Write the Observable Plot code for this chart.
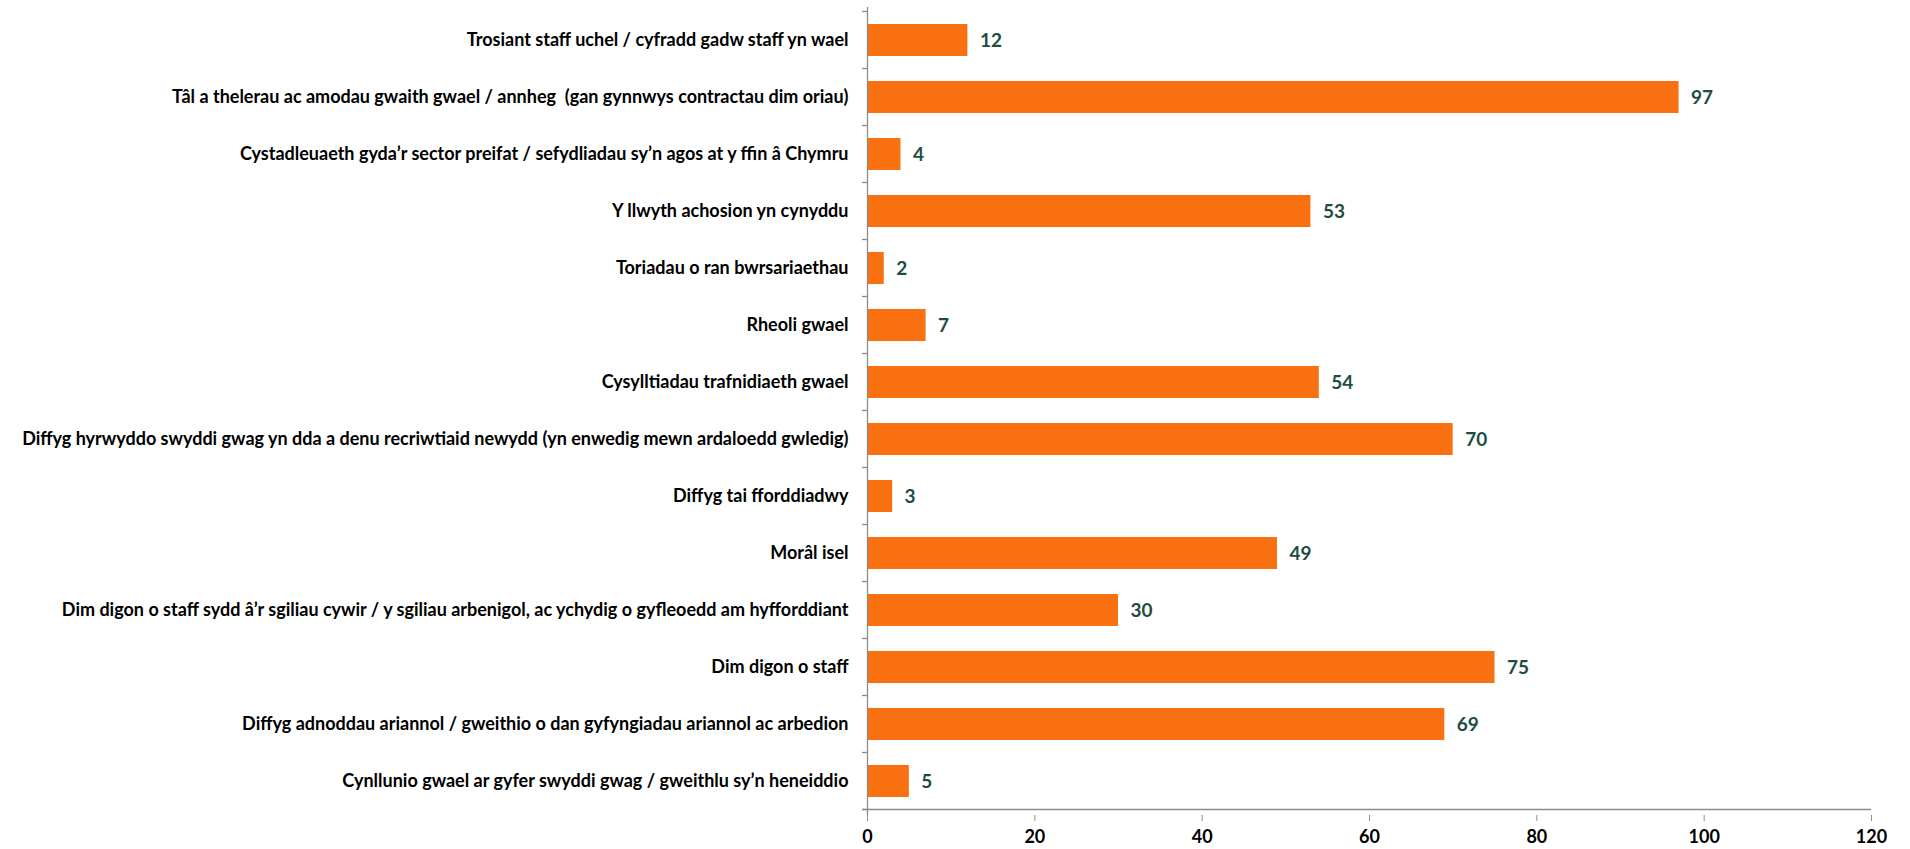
<!DOCTYPE html>
<html>
<head>
<meta charset="utf-8">
<script src="https://cdn.jsdelivr.net/npm/d3@7"></script>
<script src="https://cdn.jsdelivr.net/npm/@observablehq/plot@0.6"></script>
<style>
  html, body { margin: 0; padding: 0; background: #ffffff; }
  #chart svg { display: block; font-family: Lato, "Open Sans", sans-serif; }
</style>
</head>
<body>
<div id="chart"></div>
<script>
const categories = [
  "Trosiant staff uchel / cyfradd gadw staff yn wael",
  "Tâl a thelerau ac amodau gwaith gwael / annheg  (gan gynnwys contractau dim oriau)",
  "Cystadleuaeth gyda’r sector preifat / sefydliadau sy’n agos at y ffin â Chymru",
  "Y llwyth achosion yn cynyddu",
  "Toriadau o ran bwrsariaethau",
  "Rheoli gwael",
  "Cysylltiadau trafnidiaeth gwael",
  "Diffyg hyrwyddo swyddi gwag yn dda a denu recriwtiaid newydd (yn enwedig mewn ardaloedd gwledig)",
  "Diffyg tai fforddiadwy",
  "Morâl isel",
  "Dim digon o staff sydd â’r sgiliau cywir / y sgiliau arbenigol, ac ychydig o gyfleoedd am hyfforddiant",
  "Dim digon o staff",
  "Diffyg adnoddau ariannol / gweithio o dan gyfyngiadau ariannol ac arbedion",
  "Cynllunio gwael ar gyfer swyddi gwag / gweithlu sy’n heneiddio"
];
const values = [12, 97, 4, 53, 2, 7, 54, 70, 3, 49, 30, 75, 69, 5];
const xTicks = [0, 20, 40, 60, 80, 100, 120];

const data = categories.map((c, i) => ({label: c, value: values[i]}));

const axisColor = "#8c8c8c";
const chart = Plot.plot({
  width: 1910,
  height: 849,
  marginLeft: 867,
  marginRight: 39,
  marginTop: 7,
  marginBottom: 34,
  style: {fontFamily: "Lato, 'Open Sans', sans-serif", fontSize: "18px", fontWeight: 700, color: "#000"},
  x: {domain: [0, 120], ticks: xTicks},
  y: {domain: categories, paddingInner: 0.435, paddingOuter: 0.2175},
  marks: [
    Plot.barX(data, {y: "label", x: "value", fill: "#F97010"}),
    Plot.text(data, {y: "label", x: "value", text: d => String(d.value), textAnchor: "start", dx: 12, fill: "#1E4D3F", fontWeight: 700, fontSize: 19}),
    Plot.axisY({tickSize: 0, tickPadding: 19, label: null, fill: "#000", fontWeight: 700, fontSize: 18}),
    Plot.axisX({ticks: xTicks, tickSize: 6, tickPadding: 9, stroke: axisColor, label: null, fill: "#000", fontWeight: 700, fontSize: 18}),
    Plot.ruleX([0], {stroke: axisColor, strokeWidth: 1.3})
  ]
});
document.getElementById("chart").appendChild(chart);

// band boundary ticks on the y axis and the x axis line, positioned from Plot's own scales
const ys = chart.scale("y");
const xs = chart.scale("x");
const svg = d3.select(chart);
const x0 = xs.apply(0);
const gap = (ys.step - ys.bandwidth) / 2;
const bounds = categories.map(c => ys.apply(c) - gap);
bounds.push(ys.apply(categories[categories.length - 1]) + ys.bandwidth + gap);
const g = svg.append("g").attr("stroke", axisColor).attr("stroke-width", 1.3);
bounds.forEach(b => {
  g.append("line").attr("x1", x0 - 5).attr("x2", x0).attr("y1", b).attr("y2", b);
});
g.append("line")
  .attr("x1", x0 - 5).attr("x2", xs.apply(120))
  .attr("y1", bounds[bounds.length - 1]).attr("y2", bounds[bounds.length - 1]);
</script>
</body>
</html>
